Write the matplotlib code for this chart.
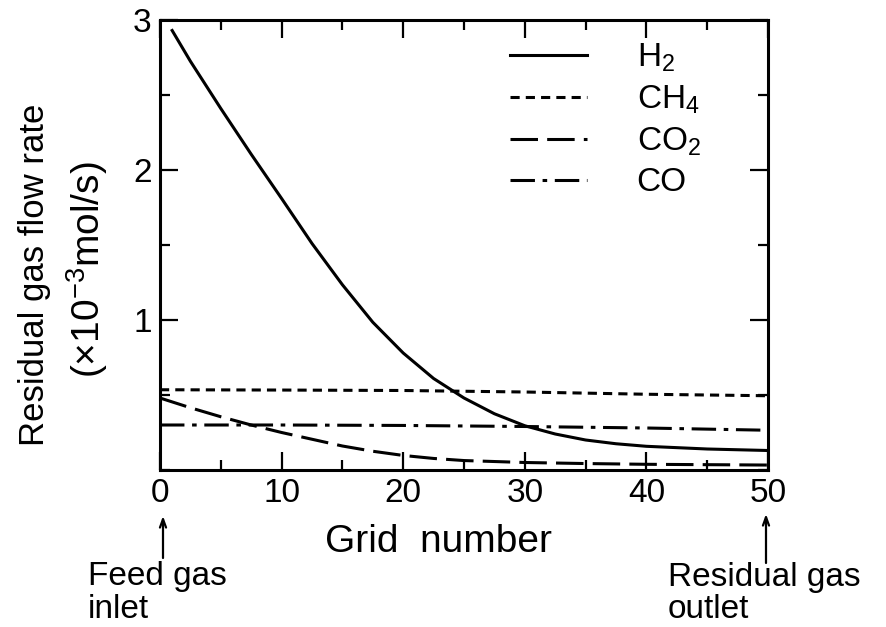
import matplotlib
matplotlib.use("Agg")
import matplotlib.pyplot as plt
from matplotlib.ticker import MultipleLocator

plt.rcParams['font.family'] = ['Liberation Sans', 'DejaVu Sans']
plt.rcParams['mathtext.fontset'] = 'custom'
plt.rcParams['mathtext.rm'] = 'Liberation Sans'
plt.rcParams['mathtext.it'] = 'Liberation Sans'

# values
h2_x = [1, 2.5, 5, 7.5, 10, 12.5, 15, 17.5, 20, 22.5, 25, 27.5, 30, 32.5, 35, 37.5, 40, 45, 50]
h2_y = [2.93, 2.725, 2.41, 2.105, 1.81, 1.51, 1.235, 0.985, 0.78, 0.61, 0.48, 0.375, 0.295,
        0.24, 0.20, 0.175, 0.158, 0.14, 0.13]
ch4_x = [0, 10, 20, 30, 40, 50]
ch4_y = [0.535, 0.533, 0.53, 0.52, 0.505, 0.495]
co2_x = [0, 2.5, 5, 7.5, 10, 12.5, 15, 17.5, 20, 22.5, 25, 30, 35, 40, 50]
co2_y = [0.48, 0.415, 0.355, 0.30, 0.25, 0.205, 0.16, 0.125, 0.097, 0.077, 0.063, 0.05,
         0.043, 0.038, 0.033]
co_x = [0, 10, 20, 30, 40, 50]
co_y = [0.30, 0.30, 0.297, 0.29, 0.28, 0.265]

W, H = 887, 627
fig = plt.figure(figsize=(W / 100, H / 100), dpi=100)
ax = fig.add_axes([160 / W, 1 - 470 / H, 608 / W, 450 / H])

lw = 2.2
ax.plot(h2_x, h2_y, color='black', lw=lw, label='H$_2$')
ax.plot(ch4_x, ch4_y, color='black', lw=lw, ls=(0, (3, 2)), label='CH$_4$')
ax.plot(co2_x, co2_y, color='black', lw=lw, ls=(0, (9, 3)), label='CO$_2$')
ax.plot(co_x, co_y, color='black', lw=lw, ls=(0, (8, 2.5, 1.5, 2.5)), label='CO')

ax.set_xlim(0, 50)
ax.set_ylim(0, 3)
ax.xaxis.set_major_locator(MultipleLocator(10))
ax.xaxis.set_minor_locator(MultipleLocator(5))
ax.yaxis.set_minor_locator(MultipleLocator(0.5))
ax.set_yticks([1, 2, 3])
ax.tick_params(which='both', direction='in', top=True, right=True, width=1.6, labelsize=24, pad=6)
ax.tick_params(which='major', length=13)
ax.tick_params(which='minor', length=7)
for s in ax.spines.values():
    s.set_linewidth(2.2)

ax.set_xlabel('Grid  number', fontsize=28)
ax.xaxis.set_label_coords((439 - 160) / 608, -(552 - 470) / 450)
ax.xaxis.label.set_va('baseline')

fig.text(35 / W, 1 - 275 / H, 'Residual gas flow rate', rotation=90, fontsize=25,
         ha='center', va='center')
fig.text(87 / W, 1 - 270 / H, '(×10$^{-3}$mol/s)', rotation=90, fontsize=28,
         ha='center', va='center')

ax.legend(loc='upper left', bbox_to_anchor=(510 / W, 1 - 42 / H), bbox_transform=fig.transFigure,
          frameon=False, fontsize=24, borderpad=0, borderaxespad=0,
          handlelength=2.3, handletextpad=1.5, labelspacing=0.28)

# inlet / outlet notes under the axis
fig.text(88 / W, 1 - 585 / H, 'Feed gas', fontsize=24, va='baseline')
fig.text(88 / W, 1 - 618 / H, 'inlet', fontsize=24, va='baseline')
fig.text(668 / W, 1 - 586 / H, 'Residual gas', fontsize=24, va='baseline')
fig.text(668 / W, 1 - 618 / H, 'outlet', fontsize=24, va='baseline')
arrow = dict(arrowstyle='->,head_length=0.6,head_width=0.22', color='black', lw=1.6,
             shrinkA=0, shrinkB=0)
ax.annotate('', xy=(163 / W, 1 - 516 / H), xytext=(163 / W, 1 - 558 / H),
            xycoords='figure fraction', textcoords='figure fraction', arrowprops=arrow)
ax.annotate('', xy=(766 / W, 1 - 514 / H), xytext=(766 / W, 1 - 563 / H),
            xycoords='figure fraction', textcoords='figure fraction', arrowprops=arrow)

fig.savefig('out.png', dpi=100)
